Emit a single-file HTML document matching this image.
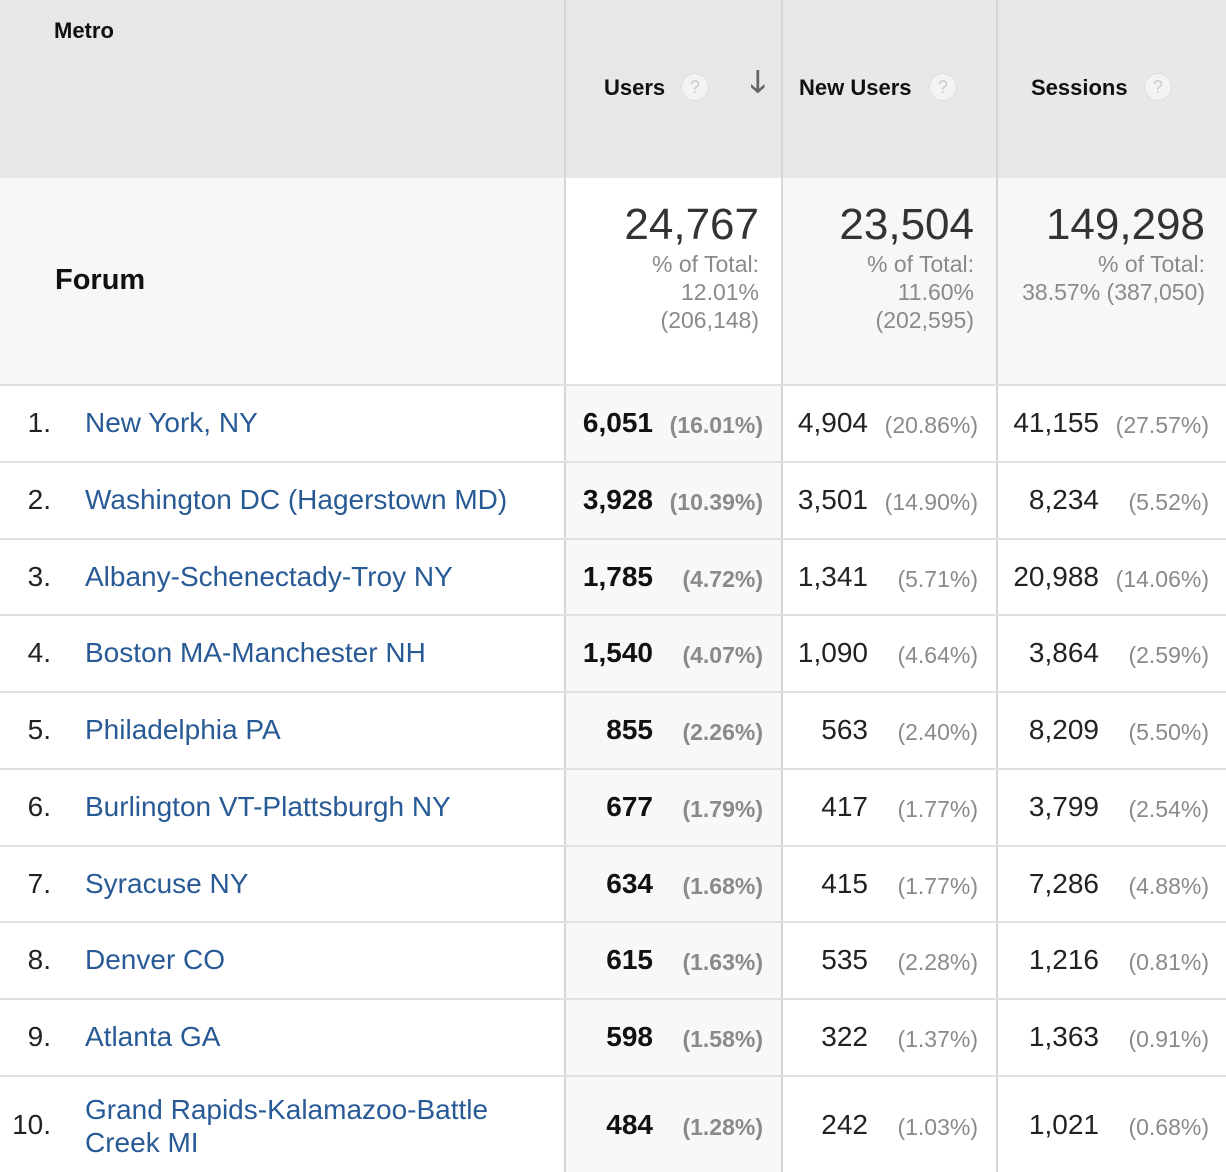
<!DOCTYPE html>
<html><head><meta charset="utf-8"><style>
*{margin:0;padding:0;box-sizing:border-box}
body{width:1226px;height:1172px;position:relative;overflow:hidden;background:#fff;font-family:"Liberation Sans",sans-serif;color:#222}
.a{position:absolute;white-space:nowrap;line-height:30px;font-size:28px}
.bg{position:absolute}
.vl{position:absolute;top:0;width:2px;height:1172px;background:#d6d6d6}
.hl{position:absolute;left:0;width:1226px;height:2px;background:#e0e0e0}
.b{font-weight:bold;color:#111}
.g{color:#8a8a8a}
.lnk{color:#285a96}
.h{font-weight:bold;font-size:22px;color:#111}
.q{position:absolute;width:28px;height:28px;border-radius:50%;background:#f3f3f3;border:1px solid #ddd;color:#ccc;font-size:18px;text-align:center;line-height:26px}
</style></head><body>
<div class="bg" style="left:0;top:0;width:1226px;height:178px;background:#e8e8e8"></div>
<div class="bg" style="left:0;top:178px;width:1226px;height:207px;background:#f7f7f7"></div>
<div class="bg" style="left:566px;top:178px;width:216px;height:207px;background:#fff"></div>
<div class="bg" style="left:566px;top:385px;width:216px;height:787px;background:#f8f8f8"></div>
<div class="vl" style="left:564px"></div>
<div class="vl" style="left:781px"></div>
<div class="vl" style="left:996px"></div>
<div class="hl" style="top:384px"></div>
<div class="hl" style="top:461px"></div>
<div class="hl" style="top:538px"></div>
<div class="hl" style="top:614px"></div>
<div class="hl" style="top:691px"></div>
<div class="hl" style="top:768px"></div>
<div class="hl" style="top:845px"></div>
<div class="hl" style="top:921px"></div>
<div class="hl" style="top:998px"></div>
<div class="hl" style="top:1075px"></div>

<div class="a h" style="left:54px;top:16px">Metro</div>
<div class="a h" style="left:604px;top:73px">Users</div>
<div class="q" style="left:681px;top:73px">?</div>
<div class="a" style="left:750px;top:68px;color:#666;font-size:30px;font-weight:bold">🡓</div>
<div class="a h" style="left:799px;top:73px">New Users</div>
<div class="q" style="left:929px;top:73px">?</div>
<div class="a h" style="left:1031px;top:73px">Sessions</div>
<div class="q" style="left:1144px;top:73px">?</div>

<div class="a" style="left:55px;top:265px;font-weight:bold;font-size:29px;color:#111">Forum</div>
<div class="a" style="right:467px;top:202px;font-size:44px;line-height:46px;color:#333">24,767</div>
<div class="a g" style="right:467px;top:250px;font-size:23px;line-height:28px;text-align:right">% of Total:<br>12.01%<br>(206,148)</div>
<div class="a" style="right:252px;top:202px;font-size:44px;line-height:46px;color:#333">23,504</div>
<div class="a g" style="right:252px;top:250px;font-size:23px;line-height:28px;text-align:right">% of Total:<br>11.60%<br>(202,595)</div>
<div class="a" style="right:21px;top:202px;font-size:44px;line-height:46px;color:#333">149,298</div>
<div class="a g" style="right:21px;top:250px;font-size:23px;line-height:28px;text-align:right">% of Total:<br>38.57% (387,050)</div>

<div class="a" style="right:1175px;top:408px">1.</div><div class="a lnk" style="left:85px;top:408px">New York, NY</div>
<div class="a b" style="right:573px;top:408px">6,051</div><div class="a b g" style="right:463px;top:410px;font-size:23px">(16.01%)</div>
<div class="a" style="right:358px;top:408px">4,904</div><div class="a g" style="right:248px;top:410px;font-size:23px">(20.86%)</div>
<div class="a" style="right:127px;top:408px">41,155</div><div class="a g" style="right:17px;top:410px;font-size:23px">(27.57%)</div>

<div class="a" style="right:1175px;top:485px">2.</div><div class="a lnk" style="left:85px;top:485px">Washington DC (Hagerstown MD)</div>
<div class="a b" style="right:573px;top:485px">3,928</div><div class="a b g" style="right:463px;top:487px;font-size:23px">(10.39%)</div>
<div class="a" style="right:358px;top:485px">3,501</div><div class="a g" style="right:248px;top:487px;font-size:23px">(14.90%)</div>
<div class="a" style="right:127px;top:485px">8,234</div><div class="a g" style="right:17px;top:487px;font-size:23px">(5.52%)</div>

<div class="a" style="right:1175px;top:562px">3.</div><div class="a lnk" style="left:85px;top:562px">Albany-Schenectady-Troy NY</div>
<div class="a b" style="right:573px;top:562px">1,785</div><div class="a b g" style="right:463px;top:564px;font-size:23px">(4.72%)</div>
<div class="a" style="right:358px;top:562px">1,341</div><div class="a g" style="right:248px;top:564px;font-size:23px">(5.71%)</div>
<div class="a" style="right:127px;top:562px">20,988</div><div class="a g" style="right:17px;top:564px;font-size:23px">(14.06%)</div>

<div class="a" style="right:1175px;top:638px">4.</div><div class="a lnk" style="left:85px;top:638px">Boston MA-Manchester NH</div>
<div class="a b" style="right:573px;top:638px">1,540</div><div class="a b g" style="right:463px;top:640px;font-size:23px">(4.07%)</div>
<div class="a" style="right:358px;top:638px">1,090</div><div class="a g" style="right:248px;top:640px;font-size:23px">(4.64%)</div>
<div class="a" style="right:127px;top:638px">3,864</div><div class="a g" style="right:17px;top:640px;font-size:23px">(2.59%)</div>

<div class="a" style="right:1175px;top:715px">5.</div><div class="a lnk" style="left:85px;top:715px">Philadelphia PA</div>
<div class="a b" style="right:573px;top:715px">855</div><div class="a b g" style="right:463px;top:717px;font-size:23px">(2.26%)</div>
<div class="a" style="right:358px;top:715px">563</div><div class="a g" style="right:248px;top:717px;font-size:23px">(2.40%)</div>
<div class="a" style="right:127px;top:715px">8,209</div><div class="a g" style="right:17px;top:717px;font-size:23px">(5.50%)</div>

<div class="a" style="right:1175px;top:792px">6.</div><div class="a lnk" style="left:85px;top:792px">Burlington VT-Plattsburgh NY</div>
<div class="a b" style="right:573px;top:792px">677</div><div class="a b g" style="right:463px;top:794px;font-size:23px">(1.79%)</div>
<div class="a" style="right:358px;top:792px">417</div><div class="a g" style="right:248px;top:794px;font-size:23px">(1.77%)</div>
<div class="a" style="right:127px;top:792px">3,799</div><div class="a g" style="right:17px;top:794px;font-size:23px">(2.54%)</div>

<div class="a" style="right:1175px;top:869px">7.</div><div class="a lnk" style="left:85px;top:869px">Syracuse NY</div>
<div class="a b" style="right:573px;top:869px">634</div><div class="a b g" style="right:463px;top:871px;font-size:23px">(1.68%)</div>
<div class="a" style="right:358px;top:869px">415</div><div class="a g" style="right:248px;top:871px;font-size:23px">(1.77%)</div>
<div class="a" style="right:127px;top:869px">7,286</div><div class="a g" style="right:17px;top:871px;font-size:23px">(4.88%)</div>

<div class="a" style="right:1175px;top:945px">8.</div><div class="a lnk" style="left:85px;top:945px">Denver CO</div>
<div class="a b" style="right:573px;top:945px">615</div><div class="a b g" style="right:463px;top:947px;font-size:23px">(1.63%)</div>
<div class="a" style="right:358px;top:945px">535</div><div class="a g" style="right:248px;top:947px;font-size:23px">(2.28%)</div>
<div class="a" style="right:127px;top:945px">1,216</div><div class="a g" style="right:17px;top:947px;font-size:23px">(0.81%)</div>

<div class="a" style="right:1175px;top:1022px">9.</div><div class="a lnk" style="left:85px;top:1022px">Atlanta GA</div>
<div class="a b" style="right:573px;top:1022px">598</div><div class="a b g" style="right:463px;top:1024px;font-size:23px">(1.58%)</div>
<div class="a" style="right:358px;top:1022px">322</div><div class="a g" style="right:248px;top:1024px;font-size:23px">(1.37%)</div>
<div class="a" style="right:127px;top:1022px">1,363</div><div class="a g" style="right:17px;top:1024px;font-size:23px">(0.91%)</div>

<div class="a" style="right:1175px;top:1110px">10.</div><div class="a lnk" style="left:85px;top:1093px;line-height:33px">Grand Rapids-Kalamazoo-Battle<br>Creek MI</div>
<div class="a b" style="right:573px;top:1110px">484</div><div class="a b g" style="right:463px;top:1112px;font-size:23px">(1.28%)</div>
<div class="a" style="right:358px;top:1110px">242</div><div class="a g" style="right:248px;top:1112px;font-size:23px">(1.03%)</div>
<div class="a" style="right:127px;top:1110px">1,021</div><div class="a g" style="right:17px;top:1112px;font-size:23px">(0.68%)</div>
</body></html>
